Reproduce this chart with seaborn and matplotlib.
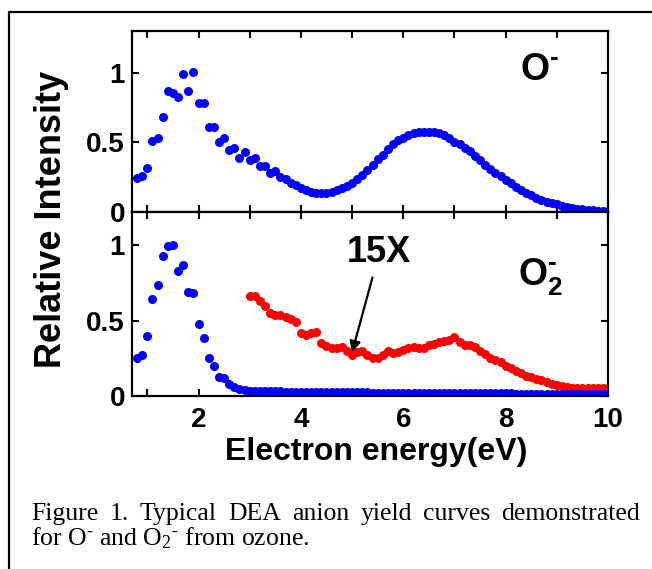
import numpy as np
import pandas as pd
import seaborn as sns
import matplotlib.pyplot as plt
from matplotlib.lines import Line2D

# electron energy grid of the scan, 0.1 eV steps
energy = np.round(np.arange(0.8, 10.01, 0.1), 1)

# O- yield (top panel)
o_minus = [
    0.242, 0.259, 0.314, 0.513, 0.530, 0.681, 0.866, 0.854, 0.825, 0.993,
    0.866, 1.002, 0.786, 0.786, 0.609, 0.614, 0.506, 0.530, 0.446, 0.458,
    0.386, 0.434, 0.374, 0.386, 0.331, 0.331, 0.278, 0.297, 0.249, 0.235,
    0.206, 0.194,
    0.170, 0.158, 0.146, 0.140, 0.134, 0.136, 0.144, 0.155, 0.170, 0.190,
    0.210, 0.240, 0.268, 0.305, 0.340, 0.378, 0.412, 0.452, 0.485, 0.515,
    0.532, 0.555, 0.565, 0.572, 0.576, 0.578, 0.574, 0.565, 0.550, 0.528,
    0.505, 0.485, 0.460, 0.435, 0.405, 0.372, 0.340, 0.310, 0.282, 0.255,
    0.228, 0.205, 0.182, 0.160, 0.140, 0.120, 0.103, 0.088, 0.075, 0.064,
    0.054, 0.045, 0.037, 0.030, 0.025, 0.020, 0.016, 0.013, 0.010, 0.008,
    0.006,
]

# O2- yield (bottom panel)
o2_minus = [
    0.254, 0.272, 0.397, 0.640, 0.735, 0.927, 0.993, 1.000, 0.830, 0.868,
    0.689, 0.680, 0.477, 0.386, 0.249, 0.199, 0.128, 0.117, 0.079, 0.062,
    0.046, 0.040,
    0.036, 0.034, 0.033, 0.032, 0.031, 0.030, 0.030, 0.029, 0.029, 0.028,
    0.028, 0.027, 0.027, 0.027, 0.026, 0.026, 0.026, 0.025, 0.025, 0.025,
    0.025, 0.024, 0.024, 0.024, 0.023, 0.023, 0.023, 0.023, 0.022, 0.022,
    0.022, 0.022, 0.021, 0.021, 0.021, 0.021, 0.020, 0.020, 0.020, 0.020,
    0.020, 0.019, 0.019, 0.019, 0.019, 0.018, 0.018, 0.018, 0.018, 0.017,
    0.017, 0.017, 0.016, 0.016, 0.016, 0.015, 0.015, 0.015, 0.014, 0.014,
    0.014, 0.014, 0.013, 0.013, 0.013, 0.013, 0.012, 0.012, 0.012, 0.012,
    0.012,
]

# O2- yield magnified 15x, above 3 eV
energy_15x = np.round(np.arange(3.0, 10.01, 0.1), 1)
o2_minus_15x = [
    0.660, 0.660, 0.630, 0.600, 0.550, 0.540, 0.535, 0.525, 0.510, 0.490,
    0.415, 0.405, 0.415, 0.425, 0.350, 0.330, 0.320, 0.315, 0.325, 0.300,
    0.275, 0.290, 0.300, 0.270, 0.255, 0.250, 0.270, 0.300, 0.285, 0.290,
    0.305, 0.315, 0.325, 0.320, 0.320, 0.335, 0.345, 0.355, 0.365, 0.370,
    0.390, 0.355, 0.340, 0.338, 0.325, 0.300, 0.280, 0.255, 0.240, 0.225,
    0.200, 0.185, 0.165, 0.150, 0.135, 0.125, 0.115, 0.105, 0.095, 0.080,
    0.070, 0.065, 0.060, 0.055, 0.052, 0.050, 0.050, 0.050, 0.050, 0.050,
    0.055,
]

x_ticks = [1, 2, 3, 4, 5, 6, 7, 8, 9, 10]
x_ticklabels = ["", "2", "", "4", "", "6", "", "8", "", "10"]
y_ticks = [0, 0.5, 1]
y_ticklabels = ["0", "0.5", "1"]

caption_1 = "Figure 1. Typical DEA anion yield curves demonstrated"
caption_2 = "for O$\\mathregular{^{‐}}$ and O$\\mathregular{_2{}^{‐}}$ from ozone."

sns.set_style("ticks")
plt.rcParams['font.family'] = ['Liberation Sans', 'DejaVu Sans']
plt.rcParams['text.color'] = 'black'
plt.rcParams['xtick.color'] = 'black'
plt.rcParams['ytick.color'] = 'black'

W, H = 652, 569
fig = plt.figure(figsize=(W / 100, H / 100), dpi=100)

left, right = 132, 608
ax1 = fig.add_axes([left / W, 1 - 212 / H, (right - left) / W, (212 - 31) / H])
ax2 = fig.add_axes([left / W, 1 - 396 / H, (right - left) / W, (396 - 212) / H])

blue = '#0000ff'
red = '#ff0000'
dot = 42

df_top = pd.DataFrame({'energy': energy, 'intensity': o_minus})
df_bot = pd.DataFrame({'energy': energy, 'intensity': o2_minus})
df_15x = pd.DataFrame({'energy': energy_15x, 'intensity': o2_minus_15x})

sns.scatterplot(data=df_top, x='energy', y='intensity', ax=ax1, color=blue,
                s=dot, linewidth=0, legend=False)
sns.scatterplot(data=df_15x, x='energy', y='intensity', ax=ax2, color=red,
                s=dot, linewidth=0, legend=False)
sns.scatterplot(data=df_bot, x='energy', y='intensity', ax=ax2, color=blue,
                s=dot, linewidth=0, legend=False)

for ax in (ax1, ax2):
    ax.set_xlim(0.7, 10)
    ax.set_xticks(x_ticks)
    ax.set_yticks(y_ticks)
    ax.set_yticklabels(y_ticklabels)
    ax.set_xlabel('')
    ax.set_ylabel('')
    for sp in ax.spines.values():
        sp.set_visible(True)
        sp.set_color('black')
        sp.set_linewidth(1.6)
    ax.tick_params(direction='in', top=True, right=True, length=5, width=1.5,
                   colors='black', labelsize=20)
    ax.tick_params(axis='y', pad=5)
    ax.tick_params(axis='x', pad=8)
    for lab in ax.get_yticklabels():
        lab.set_fontweight('bold')

ax1.set_ylim(0, 1.30)
ax2.set_ylim(0, 1.22)
ax1.set_xticklabels([])
ax2.set_xticklabels(x_ticklabels)
for lab in ax2.get_xticklabels():
    lab.set_fontweight('bold')

ax1.text(8.29, 0.95, "O$\\mathregular{^{‐}}$", fontsize=27, fontweight='bold',
         ha='left', va='baseline')
ax2.text(8.25, 0.735, "O$\\mathregular{_2^{‐}}$", fontsize=27, fontweight='bold',
         ha='left', va='baseline')
ax2.annotate("15X", xy=(5.0, 0.29), xytext=(5.53, 0.95), fontsize=26,
             fontweight='bold', ha='center', va='center',
             arrowprops=dict(arrowstyle='-|>', color='black', lw=1.6,
                             mutation_scale=16, shrinkA=3, shrinkB=0))

fig.text(52 / W, 1 - 219 / H, "Relative Intensity", rotation=90, fontsize=26,
         fontweight='bold', ha='center', va='center')
fig.text(376 / W, 1 - 460 / H, "Electron energy(eV)", fontsize=23,
         fontweight='bold', ha='center', va='baseline')

# caption: first line justified between the frame margins
serif = ['Liberation Serif', 'DejaVu Serif']
cap_size = 18.5
x0, x1 = 31, 640
words = caption_1.split()
renderer = fig.canvas.get_renderer()
widths = []
for w in words:
    t = fig.text(0, 0, w, fontsize=cap_size, family=serif)
    widths.append(t.get_window_extent(renderer).width)
    t.remove()
gap = (x1 - x0 - sum(widths)) / (len(words) - 1)
xpos = x0
for w, wd in zip(words, widths):
    fig.text(xpos / W, 1 - 520 / H, w, fontsize=cap_size, family=serif,
             va='baseline', ha='left')
    xpos += wd + gap
fig.text(x0 / W, 1 - 545 / H, caption_2, fontsize=cap_size, family=serif,
         va='baseline', ha='left')

# outer frame of the figure box (left and top edges visible)
fig.add_artist(Line2D([9 / W, 9 / W, 1.0], [0.0, 1 - 12 / H, 1 - 12 / H],
                      transform=fig.transFigure, color='black', lw=1.6))

fig.savefig('out.png', dpi=100)
